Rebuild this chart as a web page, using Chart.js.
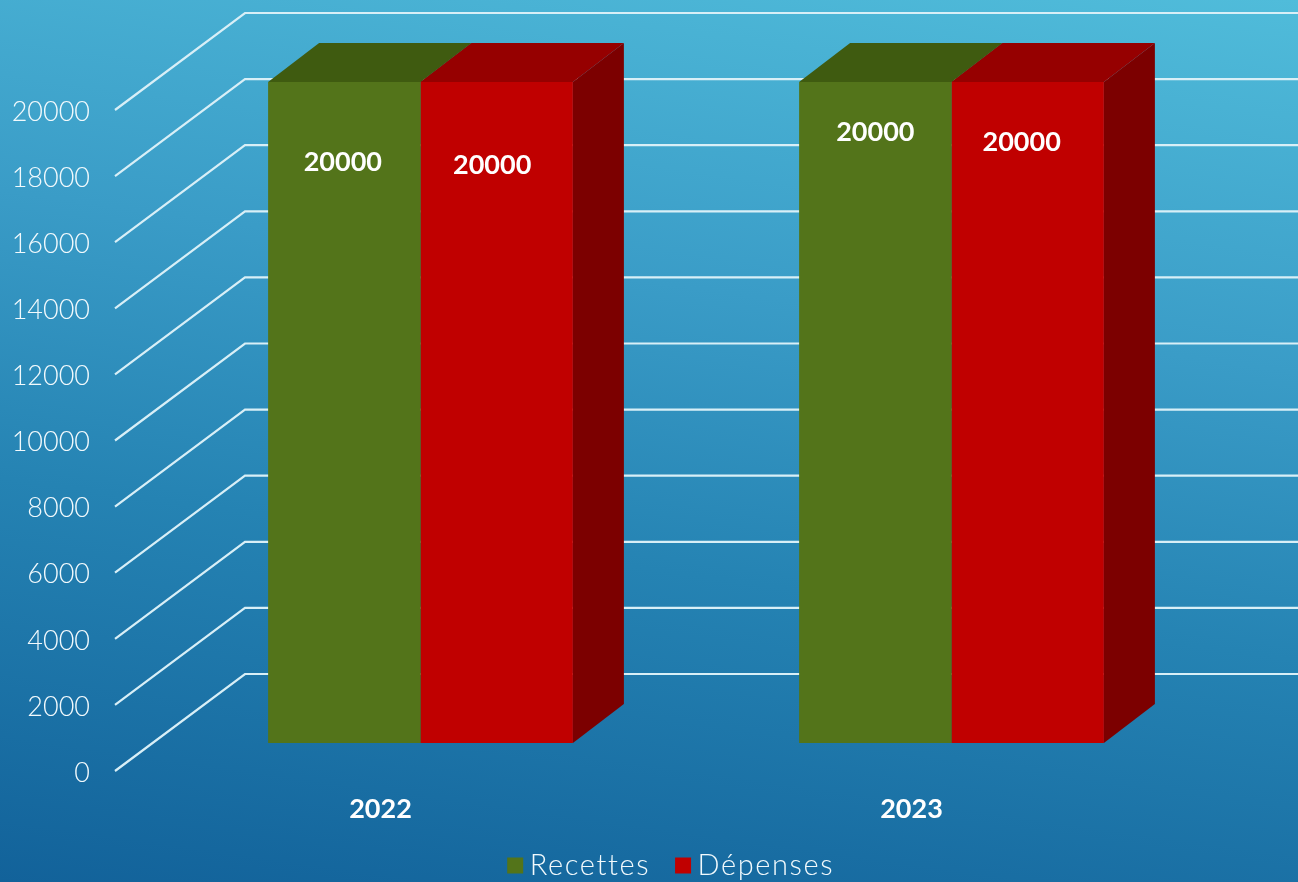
<!DOCTYPE html>
<html>
<head>
<meta charset="utf-8">
<title>Recettes et Dépenses</title>
<script src="https://cdn.jsdelivr.net/npm/chart.js@4"></script>
<style>
    html, body { margin: 0; height: 100%; overflow: hidden; }
    body { background: linear-gradient(188deg, #50bcda 0%, #3a9cc7 35%, #2583b3 62%, #12629a 100%); }
    #box { position: absolute; left: 0; top: 0; width: 1298px; height: 882px; }
</style>
</head>
<body>
<div id="box"><canvas id="chart_1"></canvas></div>
<script>
const years = ['2022', '2023'];
const recettes = [20000, 20000];
const depenses = [20000, 20000];
const yTicks = [0, 2000, 4000, 6000, 8000, 10000, 12000, 14000, 16000, 18000, 20000];

const TEXT = '#f2fafd';
const FONT = 'Lato';

// fausse 3D : mur du fond, décalage des barres, profondeur des barres
const wall = { dx: 130, dy: -97 };
const shift = { dx: 40, dy: -28 };
const depth = { dx: 51, dy: -39 };
const faces = [
    { top: '#3f5b10', side: '#3f5b10' },
    { top: '#960000', side: '#7c0000' }
];
// position des étiquettes par rapport au haut de la barre [série][année]
const labelNudge = [
    [[-1.5, 80], [0, 50]],
    [[-4.5, 83], [-6, 60]]
];

function poly(ctx, pts, color) {
    ctx.fillStyle = color;
    ctx.beginPath();
    pts.forEach((p, i) => i ? ctx.lineTo(p[0], p[1]) : ctx.moveTo(p[0], p[1]));
    ctx.closePath();
    ctx.fill();
}

const fake3d = {
    id: 'fake3d',
    afterInit(chart) {
        // texte de légende plus espacé
        const legend = chart.legend;
        const drawLegend = legend.draw.bind(legend);
        legend.draw = () => {
            chart.ctx.letterSpacing = '1.6px';
            drawLegend();
            chart.ctx.letterSpacing = '0px';
        };
    },
    afterLayout(chart) {
        // légende décalée comme sur l'original
        chart.legend.left = 146;
        chart.legend.right = 1177;
        chart.legend.top = 818;
        // chiffres de l'axe un peu plus bas (Lato est haut sur sa ligne)
        chart.scales.y.getLabelItems(chart.chartArea).forEach(item => {
            item.options.translation[1] += 2;
        });
    },
    beforeDatasetsDraw(chart) {
        const ctx = chart.ctx;
        const y = chart.scales.y;
        const left = chart.chartArea.left;

        ctx.save();
        ctx.strokeStyle = '#d8eff7';
        ctx.lineWidth = 2.2;
        y.ticks.forEach(t => {
            const py = y.getPixelForValue(t.value);
            ctx.beginPath();
            ctx.moveTo(left, py);
            ctx.lineTo(left + wall.dx, py + wall.dy);
            ctx.lineTo(chart.width, py + wall.dy);
            ctx.stroke();
        });
        ctx.restore();

        ctx.save();
        ctx.translate(shift.dx, shift.dy);
        chart.data.datasets.forEach((ds, i) => {
            chart.getDatasetMeta(i).data.forEach(bar => {
                const l = bar.x - bar.width / 2, r = bar.x + bar.width / 2;
                poly(ctx, [[r, bar.y], [r + depth.dx, bar.y + depth.dy], [r + depth.dx, bar.base + depth.dy], [r, bar.base]], faces[i].side);
                poly(ctx, [[l, bar.y], [l + depth.dx, bar.y + depth.dy], [r + depth.dx, bar.y + depth.dy], [r, bar.y]], faces[i].top);
            });
        });
    },
    afterDatasetsDraw(chart) {
        const ctx = chart.ctx;
        ctx.restore();

        ctx.save();
        ctx.fillStyle = '#ffffff';
        ctx.font = 'bold 27px ' + FONT;
        ctx.textAlign = 'center';
        ctx.textBaseline = 'middle';
        chart.data.datasets.forEach((ds, i) => {
            chart.getDatasetMeta(i).data.forEach((bar, j) => {
                const n = labelNudge[i][j];
                ctx.fillText(ds.data[j], bar.x + shift.dx + n[0], bar.y + shift.dy + n[1]);
            });
        });
        ctx.restore();
    }
};

const line_1 = document.getElementById('chart_1').getContext('2d');
const Chart_1 = new Chart(line_1, {
    type: 'bar',
    data: {
        labels: years,
        datasets: [
            { label: 'Recettes', data: recettes, backgroundColor: '#53741a' },
            { label: 'Dépenses', data: depenses, backgroundColor: '#c00000' }
        ]
    },
    options: {
        responsive: true,
        maintainAspectRatio: false,
        animation: false,
        layout: { padding: { top: 110, right: 121, left: 0, bottom: -21 } },
        datasets: { bar: { categoryPercentage: 0.574, barPercentage: 1, borderWidth: 0, clip: false } },
        scales: {
            x: {
                grid: { display: false, drawTicks: false },
                border: { display: false },
                ticks: { color: '#ffffff', padding: 22, font: { family: FONT, size: 27, weight: 'bold' } },
                afterFit(scale) { scale.height = 60; }
            },
            y: {
                min: 0,
                max: 20000,
                grid: { display: false, drawTicks: false },
                border: { display: false },
                afterBuildTicks(scale) { scale.ticks = yTicks.map(v => ({ value: v })); },
                ticks: {
                    color: TEXT,
                    padding: 25,
                    autoSkip: false,
                    font: { family: FONT, size: 27, weight: 300 },
                    callback: v => String(v)
                },
                afterFit(scale) { scale.width = 115; }
            }
        },
        plugins: {
            tooltip: { enabled: false },
            legend: {
                position: 'bottom',
                labels: {
                    color: TEXT,
                    usePointStyle: true,
                    pointStyle: 'rect',
                    boxWidth: 0.01,
                    boxHeight: 16,
                    padding: 33,
                    font: { family: FONT, size: 29, weight: 300 }
                }
            }
        }
    },
    plugins: [fake3d]
});
</script>
</body>
</html>
